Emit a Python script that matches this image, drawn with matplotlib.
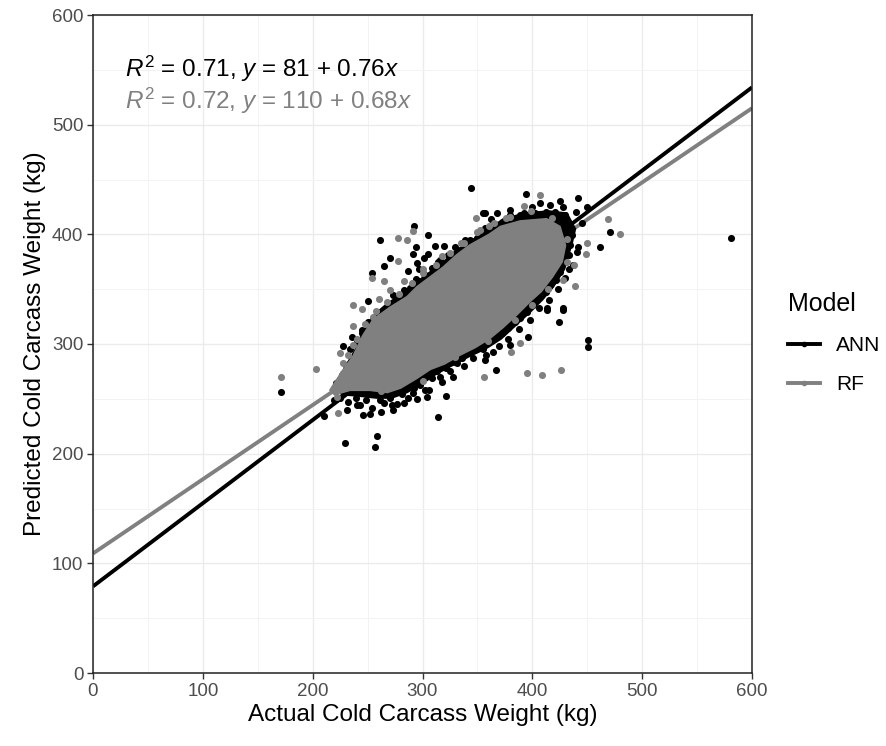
import numpy as np
import matplotlib.pyplot as plt
from matplotlib.lines import Line2D

plt.rcParams['font.family'] = ['Liberation Sans', 'DejaVu Sans']
plt.rcParams['mathtext.fontset'] = 'custom'
plt.rcParams['mathtext.rm'] = 'Liberation Sans'
plt.rcParams['mathtext.it'] = 'Liberation Sans:italic'

# regression lines (end points)
line_x = [0, 600]
ann_line_y = [79, 534]
rf_line_y = [109, 515]

# dense ANN band (black points overlapping just round the grey cloud)
ann_core_x = [220, 228, 238, 246, 254, 268, 284, 294, 306, 318, 330, 344, 360, 372, 392, 415,
              432, 440, 437, 430, 420, 410, 398, 385, 372, 358, 343, 328, 313, 300, 286, 272,
              258, 240, 226]
ann_core_y = [262, 278, 295, 313, 326, 338, 348, 357, 366, 375, 386, 395, 405, 414, 420, 422,
              420, 405, 392, 368, 352, 340, 328, 316, 304, 295, 288, 280, 272, 263, 255, 250,
              250, 252, 253]

# dense RF cloud outline (where the grey points fully overlap)
rf_core_x = [216, 225, 237, 246, 255, 270, 286, 295, 307, 319, 331, 343, 361, 371, 389, 413,
             425, 430, 427, 418, 408, 398, 386, 373, 361, 348, 334, 320, 307, 295, 280, 268,
             252, 234, 220]
rf_core_y = [258, 272, 289, 308, 322, 333, 343, 352, 361, 370, 381, 390, 400, 407, 412, 414,
             407, 390, 375, 361, 348, 339, 327, 315, 305, 297, 290, 282, 277, 269, 260, 256,
             258, 258, 254]

# ANN points visible outside the grey cloud
ann_x = [344, 357, 292, 261, 305, 294, 311, 320, 270, 265, 291, 305, 301, 295, 316, 254, 287, 297,
         301, 307, 294, 283, 273, 250, 343, 350,
         394, 407, 416, 425, 442, 450, 471, 462, 433, 428, 413, 355, 368, 380, 392, 398, 375, 361,
         441, 425, 407, 422, 392, 401,
         228, 245, 236, 231, 229, 259, 257, 314, 321, 273, 246, 234, 261, 291, 304, 343, 352, 316,
         331, 286, 268, 240, 219,
         424, 451, 451, 396, 367, 380, 355, 364, 357, 413, 428,
         171, 581, 210,
         225, 232, 239, 243, 249, 254, 260, 265, 270, 277, 281, 287, 292, 298, 302, 309, 313, 321,
         325, 330, 336, 341, 348, 354, 360, 366, 372, 378, 384, 389, 395, 401, 405, 412, 416, 421,
         425, 430, 433, 434, 436, 434, 430, 421, 412, 402, 389, 375, 366, 357, 351, 339, 330, 323,
         314, 309, 302, 296, 289, 281, 275, 266, 260, 250, 245, 240, 234, 230, 227, 221,
         240, 252, 262, 272, 283, 295, 306, 318, 328, 338, 346, 358, 370, 378, 388, 398, 406, 415,
         423, 430, 437, 442, 445, 440, 428, 400, 380, 362]
ann_y = [442, 419, 408, 395, 399, 388, 389, 389, 378, 371, 382, 382, 378, 374, 377, 365, 367, 368,
         364, 361, 359, 349, 345, 339, 395, 397,
         437, 429, 427, 430, 433, 425, 402, 388, 368, 333, 333, 419, 419, 418, 419, 416, 395, 395,
         384, 392, 352, 358, 340, 337,
         298, 310, 306, 240, 210, 216, 206, 233, 253, 240, 235, 258, 249, 255, 252, 292, 297, 270,
         283, 261, 255, 258, 249,
         320, 304, 297, 306, 276, 299, 295, 293, 285, 331, 331,
         256, 397, 234,
         251, 247, 251, 244, 249, 242, 254, 246, 251, 245, 254, 251, 260, 263, 258, 269, 275, 278,
         275, 284, 287, 293, 295, 298, 302, 306, 310, 315, 320, 324, 329, 336, 342, 347, 354, 360,
         366, 375, 381, 390, 399, 409, 418, 420, 420, 419, 418, 413, 409, 406, 401, 395, 388, 381,
         375, 369, 362, 357, 351, 344, 336, 329, 324, 320, 313, 302, 295, 281, 272, 264,
         244, 236, 238, 244, 246, 250, 258, 265, 270, 280, 287, 290, 298, 305, 314, 322, 333, 340,
         350, 360, 372, 388, 410, 420, 425, 425, 422, 414]

# RF points visible outside the dense cloud
rf_x = [349, 291, 278, 286, 278, 254, 265, 237, 245, 260, 255, 407, 392, 469, 480, 449, 439, 432,
        450, 361, 428, 237, 237, 225, 228, 228, 223, 356, 261, 222, 246, 395, 409, 426, 389, 381,
        171, 203, 270, 283, 300, 318, 335, 352, 376, 399, 418, 432, 438, 414, 400, 384, 360, 330,
        300, 262, 242,
        232, 240, 248, 258, 268, 279, 290, 300, 312, 325, 338, 350, 365, 380]
rf_y = [415, 403, 397, 395, 376, 360, 357, 336, 332, 341, 325, 436, 426, 414, 400, 382, 353, 375,
        392, 408, 358, 316, 299, 292, 283, 274, 237, 270, 325, 252, 283, 274, 272, 276, 301, 293,
        270, 277, 349, 357, 368, 380, 392, 404, 415, 421, 415, 396, 372, 350, 336, 322, 303, 288,
        266, 257, 294,
        290, 305, 318, 330, 338, 346, 356, 365, 372, 383, 392, 402, 410, 416]

black = '#000000'
grey = '#808080'
tick_col = '#4D4D4D'

fig = plt.figure(figsize=(8.86, 7.46), dpi=100)
ax = fig.add_axes([93 / 886, 1 - 673 / 746, (752 - 93) / 886, (673 - 15) / 746])

# fitted lines sit under the points, as in the original
ax.plot(line_x, ann_line_y, color=black, lw=2.8, zorder=2, solid_capstyle='butt')
ax.plot(line_x, rf_line_y, color=grey, lw=2.8, zorder=2, solid_capstyle='butt')
ax.fill(ann_core_x, ann_core_y, color=black, linewidth=0, zorder=3)
ax.scatter(ann_x, ann_y, s=26, color=black, linewidths=0, zorder=3)
ax.fill(rf_core_x, rf_core_y, color=grey, linewidth=1.5, edgecolor=grey, zorder=4)
ax.scatter(rf_x, rf_y, s=26, color=grey, linewidths=0, zorder=4)

ax.set_xlim(0, 600)
ax.set_ylim(0, 600)
ax.set_xticks(np.arange(0, 601, 100))
ax.set_yticks(np.arange(0, 601, 100))
ax.set_xticks(np.arange(50, 600, 100), minor=True)
ax.set_yticks(np.arange(50, 600, 100), minor=True)
ax.grid(which='major', color='#EBEBEB', lw=1.0, zorder=0)
ax.grid(which='minor', color='#F3F3F3', lw=0.7, zorder=0)
ax.set_axisbelow(True)
ax.tick_params(which='major', length=4, width=1, color='#333333', labelsize=13.5,
               labelcolor=tick_col, pad=3)
ax.tick_params(which='minor', length=0)
for sp in ax.spines.values():
    sp.set_color('#222222')
    sp.set_linewidth(1.1)

ax.set_xlabel('Actual Cold Carcass Weight (kg)', fontsize=17.5, labelpad=3)
ax.set_ylabel('Predicted Cold Carcass Weight (kg)', fontsize=17.5, labelpad=4)

ax.text(29, 551, r'$R^2$ = 0.71, $y$ = 81 + 0.76$x$', fontsize=17.5, color=black,
        ha='left', va='center')
ax.text(29, 522, r'$R^2$ = 0.72, $y$ = 110 + 0.68$x$', fontsize=17.5, color=grey,
        ha='left', va='center')

handles = [Line2D([], [], color=black, lw=2.8, marker='o', markersize=3),
           Line2D([], [], color=grey, lw=2.8, marker='o', markersize=3)]
leg = fig.legend(handles, ['ANN', 'RF'], title='Model', loc='upper left',
                 bbox_to_anchor=(780 / 886, 1 - 284 / 746), frameon=False,
                 fontsize=15, title_fontsize=18, handlelength=1.5, labelspacing=0.95,
                 handletextpad=0.8, borderaxespad=0)
leg._legend_box.align = 'left'

fig.savefig('out.png', dpi=100)
